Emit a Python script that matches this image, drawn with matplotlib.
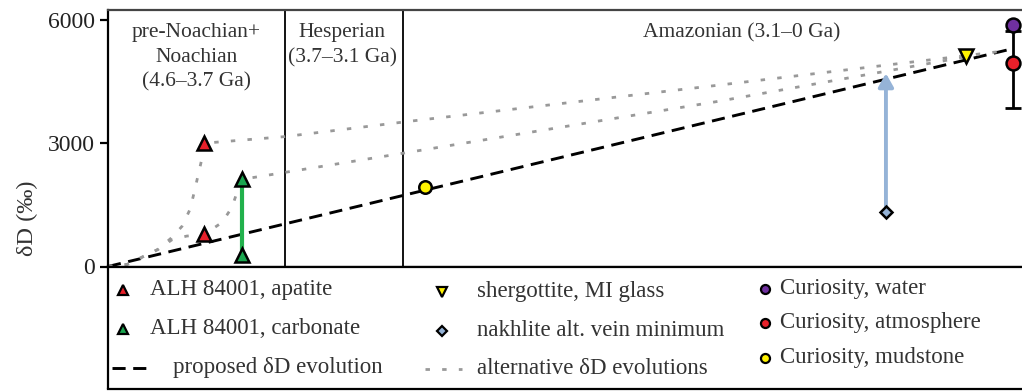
import matplotlib
matplotlib.use("Agg")
import matplotlib.pyplot as plt

plt.rcParams['font.family'] = ['Liberation Serif', 'DejaVu Serif']
plt.rcParams['text.color'] = '#333333'

# ── données (âge en Ga, δD en ‰) ─────────────────────────────────────────────
ga_apatite = [4.11, 4.11]
dd_apatite = [3000, 780]
ga_carbonate = [3.92, 3.92]
dd_carbonate = [2120, 290]
ga_mudstone = [2.99]
dd_mudstone = [1930]
ga_nakhlite = [0.645]
dd_nakhlite_min = [1330]
dd_nakhlite_fleche = [4700]
ga_shergottite = [0.24]
dd_shergottite = [5130]
ga_curiosity = [0.0]
dd_eau = [5880]
dd_atmosphere = [4950]
err_atmosphere = [[1100], [780]]

ga_propose = [4.6, 0.0]
dd_propose = [0, 5300]

ga_alt1 = [4.6, 4.503, 4.346, 4.275, 4.224, 4.183, 4.163, 4.142, 4.122, 4.11,
           3.7, 3.06, 1.49, 0.24, 0.03]
dd_alt1 = [0, 50, 415, 707, 976, 1390, 1780, 2220, 2634, 3000,
           3160, 3537, 4415, 5130, 5250]
ga_alt2 = [4.6, 4.503, 4.346, 4.275, 4.20, 4.11, 4.02, 3.97, 3.944, 3.919,
           3.10, 1.49, 0.24]
dd_alt2 = [0, 50, 415, 650, 740, 780, 1073, 1439, 1805, 2120,
           2756, 4024, 5100]

limites = [3.7, 3.1]
periodes = ["pre-Noachian+\nNoachian\n(4.6–3.7 Ga)", "Hesperian\n(3.7–3.1 Ga)",
            "Amazonian (3.1–0 Ga)"]
pos_periodes = [4.15, 3.41, 1.38]
yticks = [0, 3000, 6000]

ROUGE, VERT, JAUNE = '#e8202a', '#1aa64f', '#fff200'
VIOLET, BLEU, GRIS = '#7030a0', '#95b3d7', '#999999'

# ── figure ──────────────────────────────────────────────────────────────────
W, H = 1022, 391
fig = plt.figure(figsize=(W / 100, H / 100), dpi=100)
ax = fig.add_axes([108 / W, (H - 266.5) / H, 917 / W, 256.5 / H])
ax.set_xlim(4.6, -0.062)
ax.set_ylim(0, 6240)

for g in limites:
    ax.axvline(g, color='black', lw=1.3, zorder=1)

ax.plot(ga_propose, dd_propose, color='black', lw=2.1, ls=(0, (4.5, 2.6)), zorder=2)
for gx, dy in [(ga_alt1, dd_alt1), (ga_alt2, dd_alt2)]:
    ax.plot(gx, dy, color=GRIS, lw=2.0, ls=(0, (1.6, 4.4)), zorder=2)

ax.plot(ga_carbonate, dd_carbonate, color='#22b14c', lw=3.0, zorder=3)
ax.annotate('', xy=(ga_nakhlite[0], dd_nakhlite_fleche[0]),
            xytext=(ga_nakhlite[0], dd_nakhlite_min[0]),
            arrowprops=dict(arrowstyle='-|>,head_length=0.8,head_width=0.45',
                            color=BLEU, lw=2.8, shrinkA=0, shrinkB=0), zorder=3)
ax.errorbar(ga_curiosity, dd_atmosphere, yerr=err_atmosphere, fmt='none',
            ecolor='black', elinewidth=2, capsize=5.5, capthick=2, zorder=3)

kw = dict(ls='none', markeredgecolor='black', markeredgewidth=1.8, zorder=5)
ax.plot(ga_apatite, dd_apatite, marker='^', ms=10, color=ROUGE, **kw)
ax.plot(ga_carbonate, dd_carbonate, marker='^', ms=10, color=VERT, **kw)
ax.plot(ga_mudstone, dd_mudstone, marker='o', ms=9, color=JAUNE, **kw)
ax.plot(ga_nakhlite, dd_nakhlite_min, marker='D', ms=6.5, color=BLEU, **kw)
ax.plot(ga_shergottite, dd_shergottite, marker='v', ms=10, color=JAUNE, **kw)
ax.plot(ga_curiosity, dd_eau, marker='o', ms=10, color=VIOLET, **kw)
ax.plot(ga_curiosity, dd_atmosphere, marker='o', ms=10, color=ROUGE, **kw)

for txt, gx in zip(periodes, pos_periodes):
    ax.text(gx, 5920, txt, ha='center', va='top', fontsize=15.5,
            linespacing=1.4, color='#333333')

ax.set_xticks([])
ax.set_yticks(yticks)
ax.set_yticklabels([str(v) for v in yticks], fontsize=17, color='#222222')
ax.tick_params(axis='y', direction='out', length=6, width=1.6)
for s in ['left', 'top', 'bottom']:
    ax.spines[s].set_linewidth(1.6)
ax.spines['top'].set_color('#444444')
ax.spines['right'].set_visible(False)
ax.set_ylabel('δD (‰)', fontsize=17.5, color='#333333')
ax.yaxis.set_label_coords(-0.076, 0.19)

# ── légende (boîte dessinée sous le graphique) ─────────────────────────────
lg = fig.add_axes([108 / W, (H - 388.5) / H, 917 / W, 122 / H])
lg.set_xlim(108, 1025)
lg.set_ylim(388.5, 266.5)
lg.set_xticks([])
lg.set_yticks([])
for s in lg.spines.values():
    s.set_linewidth(1.6)
lg.spines['right'].set_visible(False)

mk = dict(ls='none', markeredgecolor='black', markeredgewidth=1.6)
entrees = [
    (123, 290, 150, 'ALH 84001, apatite', dict(marker='^', ms=7, color=ROUGE)),
    (123, 329, 150, 'ALH 84001, carbonate', dict(marker='^', ms=7, color=VERT)),
    (442, 292, 477, 'shergottite, MI glass', dict(marker='v', ms=7, color=JAUNE)),
    (442, 331, 477, 'nakhlite alt. vein minimum', dict(marker='D', ms=5.5, color=BLEU)),
    (765, 289, 780, 'Curiosity, water', dict(marker='o', ms=6.5, color=VIOLET)),
    (765, 323, 780, 'Curiosity, atmosphere', dict(marker='o', ms=6.5, color=ROUGE)),
    (765, 358, 780, 'Curiosity, mudstone', dict(marker='o', ms=6.5, color=JAUNE)),
]
for xm, ym, xt, lab, st in entrees:
    lg.plot([xm], [ym], **mk, **st)
    lg.text(xt, ym, lab, fontsize=16.5, va='center', ha='left', color='#333333')

lg.plot([112, 152], [368, 368], color='black', lw=2.1, ls=(0, (4.5, 2.6)))
lg.text(173, 368, 'proposed δD evolution', fontsize=16.5, va='center', color='#333333')
lg.plot([425, 462], [369, 369], color=GRIS, lw=2.0, ls=(0, (1.6, 4.4)))
lg.text(477, 369, 'alternative δD evolutions', fontsize=16.5, va='center', color='#333333')

fig.savefig('out.png', dpi=100)
